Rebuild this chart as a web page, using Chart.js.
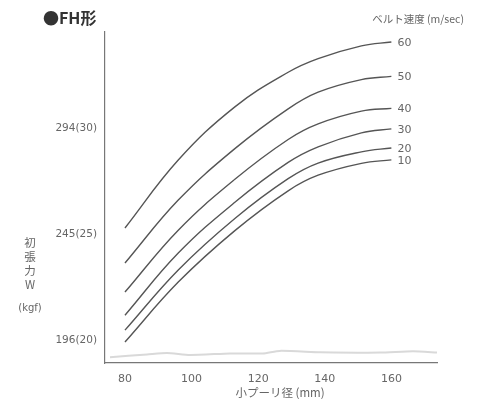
<!DOCTYPE html>
<html>
<head>
<meta charset="utf-8">
<script src="https://cdn.jsdelivr.net/npm/chart.js@4/dist/chart.umd.min.js"></script>
<style>
  html, body { margin: 0; padding: 0; background: #fff; }
  #wrap { width: 480px; height: 403px; }
</style>
</head>
<body>
<div id="wrap"><canvas id="fh-grafica" width="480" height="403"></canvas></div>
<script>
// diametro de polea (mm)
const poleaDiam = [80, 96, 113, 129, 138, 151, 160];
// tension por velocidad de banda (N)
const v10 = [195.1, 222.8, 246.6, 265.0, 272.2, 277.7, 279.3];
const v20 = [200.6, 228.4, 252.2, 270.6, 277.8, 283.0, 284.8];
const v30 = [207.5, 236.2, 259.7, 278.1, 285.3, 291.8, 293.6];
const v40 = [218.2, 246.8, 270.3, 288.7, 295.9, 301.8, 303.1];
const v50 = [231.6, 260.7, 284.5, 302.9, 310.6, 316.4, 317.9];
const v60 = [247.8, 279.2, 303.8, 319.8, 326.1, 332.0, 333.8];
const velocidades = ["10", "20", "30", "40", "50", "60"];

// linea tenue de abajo (ruido del escaneo)
const ruidoX = [75.5, 86.6, 92.6, 99.5, 111.5, 121.4, 126.5, 138.6, 156.6, 166.5, 173.7];
const ruidoY = [188.1, 189.3, 190.0, 189.1, 189.8, 189.8, 191.0, 190.4, 190.2, 190.8, 190.2];

const xTicks = [80, 100, 120, 140, 160];
const yTicks = [196, 245, 294];
const yTickLabels = ["196(20)", "245(25)", "294(30)"];

const textoGris = "#666";
const lineaGris = "#555";

(function () {
  const series = [v10, v20, v30, v40, v50, v60];

  const datasets = series.map((serie, i) => ({
    label: velocidades[i],
    data: serie.map((y, j) => ({ x: poleaDiam[j], y: y })),
    borderColor: lineaGris,
    borderWidth: 1.4,
    pointRadius: 0,
    tension: 0.4,
  }));

  datasets.unshift({
    label: "ruido",
    data: ruidoY.map((y, j) => ({ x: ruidoX[j], y: y })),
    borderColor: "#d9d9d9",
    borderWidth: 2,
    pointRadius: 0,
    tension: 0.2,
  });

  //Etiquetas y titulos dibujados encima
  const textos = {
    id: "textos",
    afterDraw(chart) {
      const ctx = chart.ctx;
      ctx.save();

      // velocidad al final de cada curva
      ctx.fillStyle = textoGris;
      ctx.font = "11px 'DejaVu Sans', sans-serif";
      ctx.textAlign = "left";
      ctx.textBaseline = "middle";
      chart.data.datasets.forEach((ds, i) => {
        if (ds.label === "ruido") return;
        const meta = chart.getDatasetMeta(i);
        const ultimo = meta.data[meta.data.length - 1];
        ctx.fillText(ds.label, ultimo.x + 6, ultimo.y + 1);
      });

      // titulo
      ctx.fillStyle = "#333";
      ctx.font = "bold 16px 'Noto Sans CJK JP', sans-serif";
      ctx.textAlign = "left";
      ctx.fillText("●FH形", 43, 18);

      ctx.fillStyle = textoGris;
      ctx.font = "10.5px 'Noto Sans CJK JP', sans-serif";
      ctx.textAlign = "right";
      ctx.fillText("ベルト速度 (m/sec)", 464, 19);

      // eje x
      ctx.font = "11.5px 'Noto Sans CJK JP', sans-serif";
      ctx.textAlign = "center";
      ctx.fillText("小プーリ径 (mm)", 280, 393);

      // eje y, vertical
      const letras = ["初", "張", "力", "W"];
      ctx.font = "11.5px 'Noto Sans CJK JP', sans-serif";
      letras.forEach((c, k) => {
        ctx.fillText(c, 30, 243 + k * 14);
      });
      ctx.font = "10px 'DejaVu Sans', sans-serif";
      ctx.fillText("(kgf)", 30, 308);

      ctx.restore();
    },
  };

  const ctx = document.getElementById("fh-grafica").getContext("2d");
  new Chart(ctx, {
    type: "line",
    data: { datasets: datasets },
    options: {
      responsive: false,
      animation: false,
      layout: {
        padding: { left: 0, right: 43, top: 32, bottom: 0 },
      },
      plugins: {
        legend: { display: false },
        tooltip: { enabled: false },
      },
      scales: {
        x: {
          type: "linear",
          min: 74,
          max: 173.7,
          afterFit: (scale) => { scale.height = 40; },
          afterBuildTicks: (scale) => {
            scale.ticks = xTicks.map((v) => ({ value: v }));
          },
          grid: { display: false, drawTicks: false },
          border: { display: true, color: "#777", width: 1.2 },
          ticks: {
            padding: 10,
            color: textoGris,
            font: { size: 11, family: "'DejaVu Sans', sans-serif" },
            maxRotation: 0,
            autoSkip: false,
          },
        },
        y: {
          type: "linear",
          min: 185.4,
          max: 338.4,
          afterFit: (scale) => { scale.width = 105; },
          afterBuildTicks: (scale) => {
            scale.ticks = yTicks.map((v) => ({ value: v }));
          },
          grid: { display: false, drawTicks: false },
          border: { display: true, color: "#777", width: 1.2 },
          ticks: {
            padding: 8,
            color: textoGris,
            font: { size: 10.5, family: "'DejaVu Sans', sans-serif" },
            autoSkip: false,
            callback: (value) => {
              const k = yTicks.indexOf(value);
              return k >= 0 ? yTickLabels[k] : "";
            },
          },
        },
      },
    },
    plugins: [textos],
  });
})();
</script>
</body>
</html>
